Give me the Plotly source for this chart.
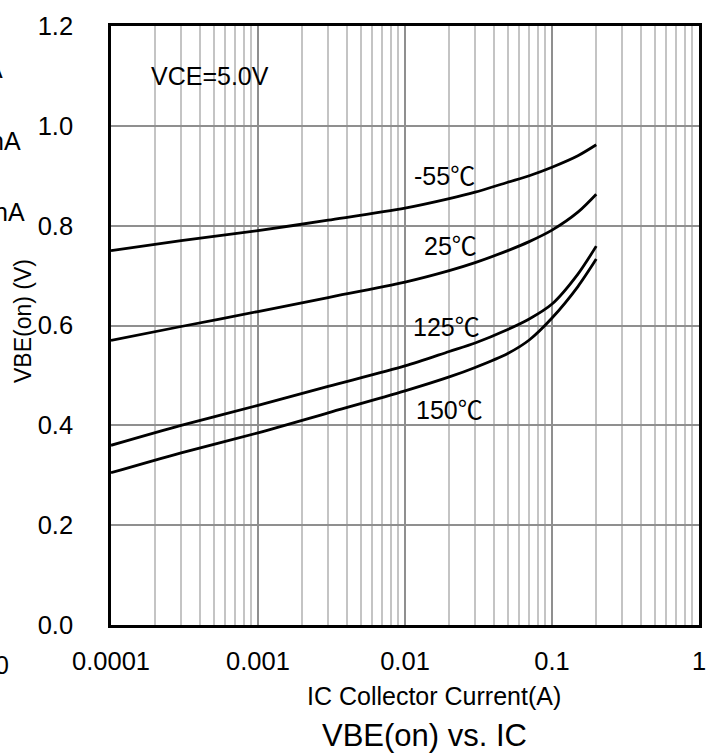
import numpy as np
import plotly.graph_objects as go

# ---- data ----
ic = [1e-4, 3e-4, 1e-3, 3e-3, 0.01, 0.02, 0.03, 0.05, 0.07, 0.1, 0.15, 0.2]
vbe_m55 = [0.750, 0.770, 0.790, 0.811, 0.835, 0.854, 0.867, 0.887, 0.900, 0.917, 0.940, 0.962]
vbe_25 = [0.570, 0.598, 0.628, 0.656, 0.687, 0.710, 0.726, 0.750, 0.768, 0.791, 0.827, 0.863]
vbe_125 = [0.360, 0.400, 0.440, 0.478, 0.519, 0.548, 0.565, 0.592, 0.613, 0.643, 0.703, 0.759]
vbe_150 = [0.305, 0.345, 0.385, 0.425, 0.469, 0.497, 0.516, 0.544, 0.571, 0.615, 0.678, 0.733]
series = [("-55℃", vbe_m55), ("25℃", vbe_25), ("125℃", vbe_125), ("150℃", vbe_150)]

label_text = ["-55℃", "25℃", "125℃", "150℃", "VCE=5.0V"]
label_x = [0.0187, 0.0205, 0.0192, 0.0201, 0.000468]
label_y = [0.899, 0.759, 0.598, 0.430, 1.099]

x_tickvals = [1e-4, 1e-3, 1e-2, 1e-1, 1]
x_ticktext = ["0.0001", "0.001", "0.01", "0.1", "1"]
x_minor = [m * 10.0 ** e for e in range(-4, 0) for m in range(2, 10)]

FONT = "Arial, Liberation Sans, Noto Sans CJK SC, sans-serif"

fig = go.Figure()
for name, v in series:
    fig.add_trace(go.Scatter(x=ic, y=v, mode="lines", name=name,
                             line=dict(color="black", width=2.8, shape="spline", smoothing=0.8),
                             showlegend=False, hoverinfo="skip"))

for t, x, y in zip(label_text, label_x, label_y):
    fig.add_annotation(x=np.log10(x), y=y, xref="x", yref="y", text=t, showarrow=False,
                       font=dict(size=25, color="black", family=FONT), xanchor="center", yanchor="middle")

# axis titles and chart title as annotations (pixel-based paper coordinates)
L, R, T, B = 111, 699, 24, 625
W, H = R - L, B - T
def px(xp): return (xp - L) / W
def py(yp): return (B - yp) / H

fig.add_annotation(x=px(434), y=py(696), xref="paper", yref="paper", text="IC Collector Current(A)",
                   showarrow=False, font=dict(size=25, color="black", family=FONT),
                   xanchor="center", yanchor="middle")
fig.add_annotation(x=px(424), y=py(736), xref="paper", yref="paper", text="VBE(on) vs. IC",
                   showarrow=False, font=dict(size=31, color="black", family=FONT),
                   xanchor="center", yanchor="middle")
fig.add_annotation(x=px(23), y=py(320), xref="paper", yref="paper", text="VBE(on) (V)",
                   showarrow=False, textangle=-90, font=dict(size=23, color="black", family=FONT),
                   xanchor="center", yanchor="middle")

# cropped fragments of neighbouring chart at the left edge
frag_text = ["A", "nA", "nA", "0"]
frag_right = [5, 23, 27, 11]
frag_y = [67, 139, 211, 665]
for t, xr, yv in zip(frag_text, frag_right, frag_y):
    fig.add_annotation(x=px(xr), y=py(yv), xref="paper", yref="paper", text=t, showarrow=False,
                       font=dict(size=25, color="black", family=FONT), xanchor="right", yanchor="middle")

fig.update_xaxes(type="log", range=[-4, 0], tickvals=x_tickvals, ticktext=x_ticktext,
                 showgrid=True, gridcolor="#8f8f8f", gridwidth=2,
                 minor=dict(tickvals=x_minor, showgrid=True, gridcolor="#c4c4c4", gridwidth=1.6, ticks=""),
                 showline=True, linecolor="black", linewidth=2.5, mirror=True,
                 ticks="", ticklabelstandoff=12,
                 tickfont=dict(size=25.5, color="black", family=FONT), zeroline=False)
fig.update_yaxes(range=[0, 1.2], dtick=0.2, tickformat=".1f",
                 showgrid=True, gridcolor="#8f8f8f", gridwidth=2,
                 showline=True, linecolor="black", linewidth=2.5, mirror=True,
                 ticks="", ticklabelstandoff=30,
                 tickfont=dict(size=25.5, color="black", family=FONT), zeroline=False)

fig.update_layout(width=720, height=756, margin=dict(l=L, r=720 - R, t=T, b=756 - B),
                  paper_bgcolor="white", plot_bgcolor="white",
                  font=dict(family=FONT, color="black"))

fig.write_html("out.html", config={"displayModeBar": False},
               post_script="document.body.style.margin='0';document.body.style.padding='0';")
